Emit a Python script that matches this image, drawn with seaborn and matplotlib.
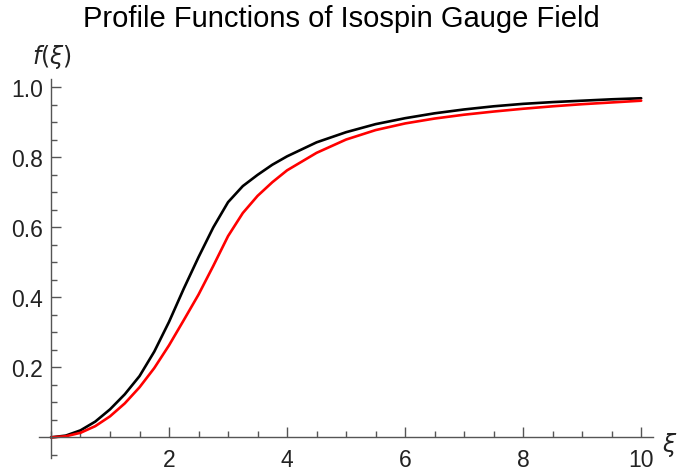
import numpy as np
import pandas as pd
import matplotlib
matplotlib.use("Agg")
import matplotlib.pyplot as plt
from matplotlib.ticker import MultipleLocator, FixedLocator
import seaborn as sns

# Data
xi_black = [0, 0.25, 0.5, 0.75, 1.0, 1.25, 1.5, 1.75, 2.0, 2.25, 2.5, 2.75, 3.0, 3.25,
            3.5, 3.75, 4.0, 4.5, 5.0, 5.5, 6.0, 6.5, 7.0, 7.5, 8.0, 8.5, 9.0, 9.5, 10.0]
f_black = [0, 0.005, 0.02, 0.045, 0.08, 0.123, 0.175, 0.245, 0.33, 0.425, 0.515, 0.6,
           0.672, 0.718, 0.75, 0.779, 0.803, 0.843, 0.872, 0.895, 0.912, 0.926, 0.937,
           0.946, 0.953, 0.958, 0.962, 0.966, 0.969]

xi_red = [0, 0.25, 0.5, 0.75, 1.0, 1.25, 1.5, 1.75, 2.0, 2.25, 2.5, 2.75, 3.0, 3.25,
          3.5, 3.75, 4.0, 4.5, 5.0, 5.5, 6.0, 6.5, 7.0, 7.5, 8.0, 8.5, 9.0, 9.5, 10.0]
f_red = [0, 0.003, 0.013, 0.032, 0.06, 0.097, 0.143, 0.198, 0.263, 0.335, 0.408, 0.49,
         0.575, 0.641, 0.69, 0.729, 0.763, 0.813, 0.851, 0.878, 0.897, 0.911, 0.922,
         0.931, 0.939, 0.946, 0.952, 0.957, 0.962]

title = "Profile Functions of Isospin Gauge Field"
x_major = [2, 4, 6, 8, 10]
y_major = [0.2, 0.4, 0.6, 0.8, 1.0]

df = pd.concat([
    pd.DataFrame({"xi": xi_black, "f": f_black, "curve": "a"}),
    pd.DataFrame({"xi": xi_red, "f": f_red, "curve": "b"}),
])

sns.set_style("white")
plt.rcParams["font.family"] = ["Liberation Sans", "DejaVu Sans"]

fig = plt.figure(figsize=(6.81, 4.77), dpi=100)
ax = fig.add_axes([39 / 681, 1 - 459 / 477, (653 - 39) / 681, (459 - 80) / 477])

sns.lineplot(data=df, x="xi", y="f", hue="curve", palette={"a": "black", "b": "#ff0000"},
             linewidth=1.9, legend=False, ax=ax, sort=False)

ax.set_xlim(-0.203, 10.2)
ax.set_ylim(-0.059, 1.024)

for s in ["top", "right"]:
    ax.spines[s].set_visible(False)
ax.spines["left"].set_position(("data", 0))
ax.spines["bottom"].set_position(("data", 0))
for s in ["left", "bottom"]:
    ax.spines[s].set_color("#555555")
    ax.spines[s].set_linewidth(1.0)

ax.xaxis.set_major_locator(FixedLocator(x_major))
ax.yaxis.set_major_locator(FixedLocator(y_major))
ax.xaxis.set_minor_locator(MultipleLocator(0.5))
ax.yaxis.set_minor_locator(MultipleLocator(0.05))
ax.set_xticklabels([str(v) for v in x_major])
ax.set_yticklabels([f"{v:.1f}" for v in y_major])
ax.tick_params(which="both", direction="in", color="#555555", width=1.0,
               labelsize=16.5, labelcolor="#222222", bottom=True, left=True)
ax.tick_params(axis="x", which="major", length=7, pad=8)
ax.tick_params(axis="y", which="major", length=7, pad=6)
ax.tick_params(which="minor", length=4)
ax.set_xlabel("")
ax.set_ylabel("")
ax.grid(False)

fig.text(32 / 681, 1 - 57 / 477, r"$f(\xi)$", fontsize=17, va="center", ha="left",
         color="#222222", math_fontfamily="dejavusans")
fig.text(662 / 681, 1 - 445 / 477, r"$\xi$", fontsize=17, va="center", ha="left",
         color="#222222", math_fontfamily="dejavusans")
fig.text(341 / 681, 1 - 19 / 477, title, fontsize=21, ha="center", va="center", color="black")

fig.savefig("out.png", dpi=100, facecolor="white")
